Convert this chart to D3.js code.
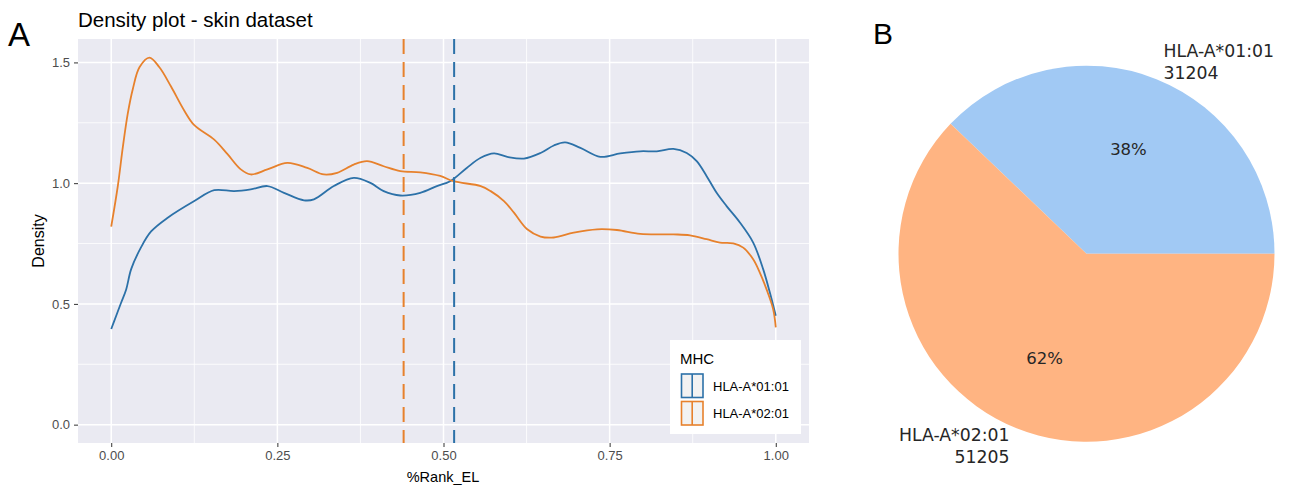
<!DOCTYPE html>
<html>
<head>
<meta charset="utf-8">
<script src="https://cdn.jsdelivr.net/npm/d3@7/dist/d3.min.js"></script>
<style>
  html, body { margin: 0; padding: 0; background: #fff; }
  svg { display: block; }
</style>
</head>
<body>
<svg id="chart" width="1290" height="486"></svg>
<script>
// ---------------- DATA ----------------
const seriesNames = ["HLA-A*01:01", "HLA-A*02:01"];
const seriesColors = ["#2c71a8", "#e7812c"];

// density curve: HLA-A*01:01
const a01Rank = [0, 0.0075, 0.015, 0.0225, 0.03, 0.045, 0.06, 0.085, 0.125, 0.155, 0.185, 0.21, 0.235, 0.26, 0.29, 0.305, 0.335, 0.365, 0.39, 0.41, 0.435, 0.465, 0.49, 0.51, 0.535, 0.556, 0.576, 0.596, 0.621, 0.646, 0.666, 0.683, 0.706, 0.736, 0.766, 0.796, 0.821, 0.846, 0.866, 0.881, 0.896, 0.911, 0.926, 0.946, 0.966, 0.981, 0.991, 1.0];
const a01Density = [0.396, 0.451, 0.506, 0.56, 0.644, 0.735, 0.80, 0.857, 0.926, 0.971, 0.967, 0.974, 0.988, 0.96, 0.929, 0.933, 0.988, 1.022, 1.001, 0.967, 0.949, 0.96, 0.988, 1.008, 1.063, 1.105, 1.123, 1.109, 1.102, 1.125, 1.156, 1.169, 1.146, 1.109, 1.123, 1.132, 1.132, 1.142, 1.125, 1.091, 1.029, 0.96, 0.905, 0.837, 0.754, 0.644, 0.548, 0.451];

// density curve: HLA-A*02:01
const a02Rank = [0, 0.01, 0.0175, 0.025, 0.0325, 0.0425, 0.0575, 0.0725, 0.09, 0.11, 0.125, 0.155, 0.175, 0.195, 0.21, 0.235, 0.265, 0.295, 0.32, 0.34, 0.365, 0.385, 0.41, 0.435, 0.465, 0.495, 0.515, 0.556, 0.571, 0.591, 0.606, 0.626, 0.646, 0.666, 0.696, 0.731, 0.761, 0.796, 0.846, 0.871, 0.896, 0.916, 0.936, 0.951, 0.966, 0.976, 0.986, 0.996, 1.0];
const a02Density = [0.82, 0.99, 1.15, 1.29, 1.39, 1.48, 1.52, 1.48, 1.40, 1.30, 1.24, 1.18, 1.12, 1.057, 1.036, 1.057, 1.084, 1.063, 1.036, 1.043, 1.077, 1.091, 1.07, 1.05, 1.045, 1.03, 1.008, 0.988, 0.967, 0.926, 0.878, 0.809, 0.779, 0.775, 0.795, 0.809, 0.806, 0.79, 0.788, 0.784, 0.768, 0.754, 0.751, 0.733, 0.685, 0.63, 0.561, 0.479, 0.403];

// mean %Rank_EL (dashed lines)
const meanRank = [0.516, 0.44];

const xTicks = [0, 0.25, 0.5, 0.75, 1.0];
const xTickLabels = ["0.00", "0.25", "0.50", "0.75", "1.00"];
const yTicks = [0, 0.5, 1.0, 1.5];
const yTickLabels = ["0.0", "0.5", "1.0", "1.5"];

// pie
const pieLabels = ["HLA-A*01:01", "HLA-A*02:01"];
const pieCounts = [31204, 51205];
const pieColors = ["#a1c9f4", "#ffb482"];

// ---------------- PANEL A ----------------
const svg = d3.select("#chart");
const FONT = "'Liberation Sans', Arial, sans-serif";

const plot = { left: 78, right: 809, top: 39, bottom: 443 };
const x = d3.scaleLinear().domain([-0.05, 1.05]).range([plot.left, plot.right]);
const y = d3.scaleLinear().domain([-0.076, 1.597]).range([plot.bottom, plot.top]);

svg.append("text").attr("x", 8).attr("y", 46).attr("font-family", FONT)
  .attr("font-size", 33).attr("fill", "#000").text("A");
svg.append("text").attr("x", 78).attr("y", 27).attr("font-family", FONT)
  .attr("font-size", 20.5).attr("fill", "#000").text("Density plot - skin dataset");

const gA = svg.append("g");
gA.append("rect").attr("x", plot.left).attr("y", plot.top)
  .attr("width", plot.right - plot.left).attr("height", plot.bottom - plot.top)
  .attr("fill", "#eaeaf2");

// minor grid
const xMinor = [0.125, 0.375, 0.625, 0.875];
const yMinor = [0.25, 0.75, 1.25];
gA.selectAll(".xminor").data(xMinor).join("line")
  .attr("x1", d => x(d)).attr("x2", d => x(d)).attr("y1", plot.top).attr("y2", plot.bottom)
  .attr("stroke", "#fff").attr("stroke-width", 0.8);
gA.selectAll(".yminor").data(yMinor).join("line")
  .attr("y1", d => y(d)).attr("y2", d => y(d)).attr("x1", plot.left).attr("x2", plot.right)
  .attr("stroke", "#fff").attr("stroke-width", 0.8);
// major grid
gA.selectAll(".xmajor").data(xTicks).join("line")
  .attr("x1", d => x(d)).attr("x2", d => x(d)).attr("y1", plot.top).attr("y2", plot.bottom)
  .attr("stroke", "#fff").attr("stroke-width", 1.5);
gA.selectAll(".ymajor").data(yTicks).join("line")
  .attr("y1", d => y(d)).attr("y2", d => y(d)).attr("x1", plot.left).attr("x2", plot.right)
  .attr("stroke", "#fff").attr("stroke-width", 1.5);

// axes
const xAxis = d3.axisBottom(x).tickValues(xTicks).tickFormat((d, i) => xTickLabels[i])
  .tickSize(4).tickPadding(4);
const gx = gA.append("g").attr("transform", `translate(0,${plot.bottom})`).call(xAxis);
gx.select(".domain").remove();
gx.selectAll("line").attr("stroke", "#333").attr("stroke-width", 1);
gx.selectAll("text").attr("font-family", FONT).attr("font-size", 13).attr("fill", "#4d4d4d");

const yAxis = d3.axisLeft(y).tickValues(yTicks).tickFormat((d, i) => yTickLabels[i])
  .tickSize(4).tickPadding(4);
const gy = gA.append("g").attr("transform", `translate(${plot.left},0)`).call(yAxis);
gy.select(".domain").remove();
gy.selectAll("line").attr("stroke", "#333").attr("stroke-width", 1);
gy.selectAll("text").attr("font-family", FONT).attr("font-size", 13).attr("fill", "#4d4d4d");

svg.append("text").attr("x", 443).attr("y", 482)
  .attr("text-anchor", "middle").attr("font-family", FONT).attr("font-size", 14.5)
  .attr("fill", "#000").text("%Rank_EL");
svg.append("text").attr("transform", `translate(44,${(plot.top + plot.bottom) / 2}) rotate(-90)`)
  .attr("text-anchor", "middle").attr("font-family", FONT).attr("font-size", 16)
  .attr("fill", "#000").text("Density");

// density lines
const series = [
  a01Rank.map((r, i) => [r, a01Density[i]]),
  a02Rank.map((r, i) => [r, a02Density[i]])
];
const line = d3.line().x(d => x(d[0])).y(d => y(d[1])).curve(d3.curveCatmullRom.alpha(0.5));
gA.selectAll(".dens").data(series).join("path")
  .attr("d", line).attr("fill", "none")
  .attr("stroke", (d, i) => seriesColors[i]).attr("stroke-width", 1.8);

// mean dashed lines
gA.selectAll(".vmean").data(meanRank).join("line")
  .attr("x1", d => x(d)).attr("x2", d => x(d))
  .attr("y1", plot.top).attr("y2", plot.bottom)
  .attr("stroke", (d, i) => seriesColors[i]).attr("stroke-width", 2)
  .attr("stroke-dasharray", "15,8");

// legend
const lg = svg.append("g");
lg.append("rect").attr("x", 670).attr("y", 340).attr("width", 131).attr("height", 94).attr("fill", "#fff");
lg.append("text").attr("x", 680).attr("y", 364).attr("font-family", FONT)
  .attr("font-size", 15).attr("fill", "#000").text("MHC");
seriesNames.forEach((name, i) => {
  const ky = 374 + i * 27.5;
  lg.append("rect").attr("x", 681.5).attr("y", ky).attr("width", 21.5).attr("height", 23.5)
    .attr("fill", "#f2f2f2").attr("stroke", seriesColors[i]).attr("stroke-width", 1.6);
  lg.append("line").attr("x1", 692.2).attr("x2", 692.2).attr("y1", ky).attr("y2", ky + 23.5)
    .attr("stroke", seriesColors[i]).attr("stroke-width", 1.6);
  lg.append("text").attr("x", 713).attr("y", ky + 12).attr("dy", "0.35em")
    .attr("font-family", FONT).attr("font-size", 13).attr("fill", "#000").text(name);
});

// ---------------- PANEL B ----------------
const PF = "'DejaVu Sans', sans-serif";
svg.append("text").attr("x", 873).attr("y", 44).attr("font-family", FONT)
  .attr("font-size", 30).attr("fill", "#000").text("B");

const cx = 1086.5, cy = 253.7, R = 188;
const total = d3.sum(pieCounts);
// matplotlib: start at 3 o'clock, counter-clockwise
const pie = d3.pie().sort(null).value(d => d)
  .startAngle(Math.PI / 2).endAngle(Math.PI / 2 - 2 * Math.PI);
const arcs = pie(pieCounts);
const arc = d3.arc().innerRadius(0).outerRadius(R);
const gB = svg.append("g").attr("transform", `translate(${cx},${cy})`);
gB.selectAll("path").data(arcs).join("path")
  .attr("d", arc).attr("fill", (d, i) => pieColors[i]);

arcs.forEach((a, i) => {
  const mid = (a.startAngle + a.endAngle) / 2; // d3 angle: 0 at 12 o'clock, clockwise
  const dx = Math.sin(mid), dy = -Math.cos(mid);
  // percentage
  gB.append("text").attr("x", dx * R * 0.6).attr("y", dy * R * 0.6).attr("dy", "0.35em")
    .attr("text-anchor", "middle").attr("font-family", PF).attr("font-size", 16.5)
    .attr("fill", "#262626").text(Math.round(pieCounts[i] / total * 100) + "%");
  // label
  const lx = dx * R * 1.1, ly = dy * R * 1.1;
  const anchor = dx >= 0 ? "start" : "end";
  const t = gB.append("text").attr("font-family", PF).attr("font-size", 17.3)
    .attr("fill", "#262626").attr("text-anchor", anchor);
  t.append("tspan").attr("x", lx).attr("y", ly - 11).attr("dy", "0.35em").text(pieLabels[i]);
  t.append("tspan").attr("x", lx).attr("y", ly + 11).attr("dy", "0.35em").text(pieCounts[i]);
});
</script>
</body>
</html>
